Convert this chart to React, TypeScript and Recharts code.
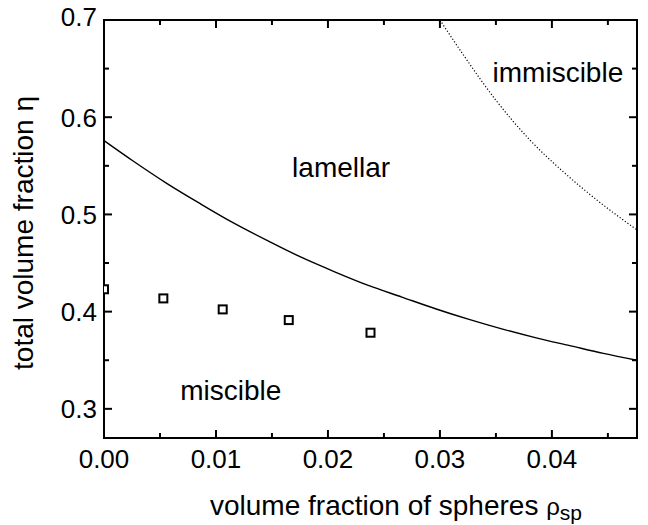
import React from 'react';
import { ComposedChart, Line, Scatter, XAxis, YAxis, ReferenceDot, ReferenceLine, ReferenceArea } from 'recharts';

// ---- data ----
const lamellarX = [0, 0.0026, 0.0056, 0.0086, 0.0116, 0.0146, 0.0176, 0.0206, 0.0236, 0.0266, 0.0296, 0.0326, 0.0356, 0.0386, 0.0416, 0.0446, 0.0476];
const lamellarEta = [0.576, 0.555, 0.532, 0.511, 0.491, 0.473, 0.456, 0.441, 0.427, 0.415, 0.403, 0.392, 0.382, 0.373, 0.365, 0.357, 0.35];
const immiscibleX = [0.03, 0.0321, 0.0351, 0.038, 0.041, 0.044, 0.0476];
const immiscibleEta = [0.7, 0.664, 0.616, 0.577, 0.544, 0.515, 0.484];
const squaresX = [0, 0.0053, 0.0106, 0.0165, 0.0238];
const squaresEta = [0.423, 0.4136, 0.4023, 0.3913, 0.3783];
const xMajor = [0, 0.01, 0.02, 0.03, 0.04];
const xMinor = [0.005, 0.015, 0.025, 0.035, 0.045];
const yMajor = [0.3, 0.4, 0.5, 0.6, 0.7];
const yMinor = [0.35, 0.45, 0.55, 0.65];
const xDomain = [0, 0.0476];
const yDomain = [0.27, 0.7];
const regionLabels = [
  { text: 'immiscible', x: 0.0347, y: 0.6363 },
  { text: 'lamellar', x: 0.0168, y: 0.539 },
  { text: 'miscible', x: 0.0068, y: 0.3095 },
];

const lamellarData = lamellarX.map((x, i) => ({ x, y: lamellarEta[i] }));
const immiscibleData = immiscibleX.map((x, i) => ({ x, y: immiscibleEta[i] }));
const squaresData = squaresX.map((x, i) => ({ x, y: squaresEta[i] }));

const FONT = '"Liberation Sans", Arial, Helvetica, sans-serif';

// plot box size in px (layout), used to turn tick lengths into data units
const PLOT_W = 533;
const PLOT_H = 418;
const xPerPx = (xDomain[1] - xDomain[0]) / PLOT_W;
const yPerPx = (yDomain[1] - yDomain[0]) / PLOT_H;
const MAJOR = 8;
const MINOR = 5;

const XTickBottom = (props: any) => {
  const { x, y, payload } = props;
  return (
    <text x={x} y={y + 30} textAnchor="middle" fontSize={26} fontFamily={FONT} fill="#000">
      {payload.value.toFixed(2)}
    </text>
  );
};

const YTickLeft = (props: any) => {
  const { x, y, payload } = props;
  const top = Math.abs(payload.value - yDomain[1]) < 1e-9;
  return (
    <text x={x - 7} y={y + (top ? 5.5 : 9.5)} textAnchor="end" fontSize={26} fontFamily={FONT} fill="#000">
      {payload.value.toFixed(1)}
    </text>
  );
};

const XTitle = () => (
  <text x={210} y={515} fontSize={28} fontFamily={FONT} fill="#000">
    volume fraction of spheres{' '}
    <tspan fontSize={24}>ρ</tspan>
    <tspan fontSize={21} dy={5}>sp</tspan>
  </text>
);

const YTitle = () => (
  <text
    x={33}
    y={233}
    transform="rotate(-90, 33, 233)"
    textAnchor="middle"
    fontSize={28}
    fontFamily={FONT}
    fill="#000"
  >
    total volume fraction η
  </text>
);

const SquareShape = (props: any) => {
  const { cx, cy } = props;
  return <rect x={cx - 4} y={cy - 4} width={8} height={8} fill="#fff" stroke="#000" strokeWidth={2} />;
};

const tickStyle = { stroke: '#000', strokeWidth: 2, ifOverflow: 'visible' as const };

export default function App() {
  const xTickSegs: any[] = [];
  [...xMajor.map((v) => [v, MAJOR]), ...xMinor.map((v) => [v, MINOR])].forEach(([v, len], i) => {
    const d = len * yPerPx;
    xTickSegs.push(
      <ReferenceLine key={`xb${i}`} xAxisId="b" yAxisId="l" {...tickStyle}
        segment={[{ x: v, y: yDomain[0] }, { x: v, y: yDomain[0] + d }]} />,
      <ReferenceLine key={`xt${i}`} xAxisId="b" yAxisId="l" {...tickStyle}
        segment={[{ x: v, y: yDomain[1] }, { x: v, y: yDomain[1] - d }]} />
    );
  });
  const yTickSegs: any[] = [];
  [...yMajor.map((v) => [v, MAJOR]), ...yMinor.map((v) => [v, MINOR])].forEach(([v, len], i) => {
    const d = len * xPerPx;
    yTickSegs.push(
      <ReferenceLine key={`yl${i}`} xAxisId="b" yAxisId="l" {...tickStyle}
        segment={[{ x: xDomain[0], y: v }, { x: xDomain[0] + d, y: v }]} />,
      <ReferenceLine key={`yr${i}`} xAxisId="b" yAxisId="l" {...tickStyle}
        segment={[{ x: xDomain[1], y: v }, { x: xDomain[1] - d, y: v }]} />
    );
  });

  return (
    <div style={{ position: 'absolute', left: 0, top: 0, width: 648, height: 525, background: '#fff' }}>
      <ComposedChart width={648} height={525} margin={{ top: 20, right: 11, left: 0, bottom: 0 }}>
        <XAxis
          xAxisId="b"
          type="number"
          dataKey="x"
          domain={xDomain}
          allowDataOverflow
          ticks={xMajor}
          interval={0}
          tickSize={0}
          tickMargin={0}
          tickLine={false}
          axisLine={false}
          height={87}
          tick={<XTickBottom />}
          label={<XTitle />}
        />
        <YAxis
          yAxisId="l"
          type="number"
          dataKey="y"
          domain={yDomain}
          allowDataOverflow
          ticks={yMajor}
          interval={0}
          tickSize={0}
          tickMargin={0}
          tickLine={false}
          axisLine={false}
          width={104}
          tick={<YTickLeft />}
          label={<YTitle />}
        />
        <Line
          xAxisId="b"
          yAxisId="l"
          data={lamellarData}
          dataKey="y"
          type="monotone"
          stroke="#000"
          strokeWidth={1.4}
          dot={false}
          activeDot={false}
          isAnimationActive={false}
        />
        <Line
          xAxisId="b"
          yAxisId="l"
          data={immiscibleData}
          dataKey="y"
          type="monotone"
          stroke="#000"
          strokeWidth={1.2}
          strokeDasharray="1.2 2"
          dot={false}
          activeDot={false}
          isAnimationActive={false}
        />
        <Scatter
          xAxisId="b"
          yAxisId="l"
          data={squaresData}
          dataKey="y"
          shape={<SquareShape />}
          isAnimationActive={false}
        />
        {regionLabels.map((l) => (
          <ReferenceDot
            key={l.text}
            xAxisId="b"
            yAxisId="l"
            x={l.x}
            y={l.y}
            r={0}
            shape={(p: any) => (
              <text x={p.cx} y={p.cy} fontSize={28} fontFamily={FONT} fill="#000">
                {l.text}
              </text>
            )}
          />
        ))}
        <ReferenceArea
          xAxisId="b"
          yAxisId="l"
          x1={xDomain[0]}
          x2={xDomain[1]}
          y1={yDomain[0]}
          y2={yDomain[1]}
          fill="none"
          fillOpacity={0}
          stroke="#000"
          strokeWidth={2}
          ifOverflow="visible"
        />
        {xTickSegs}
        {yTickSegs}
      </ComposedChart>
    </div>
  );
}
